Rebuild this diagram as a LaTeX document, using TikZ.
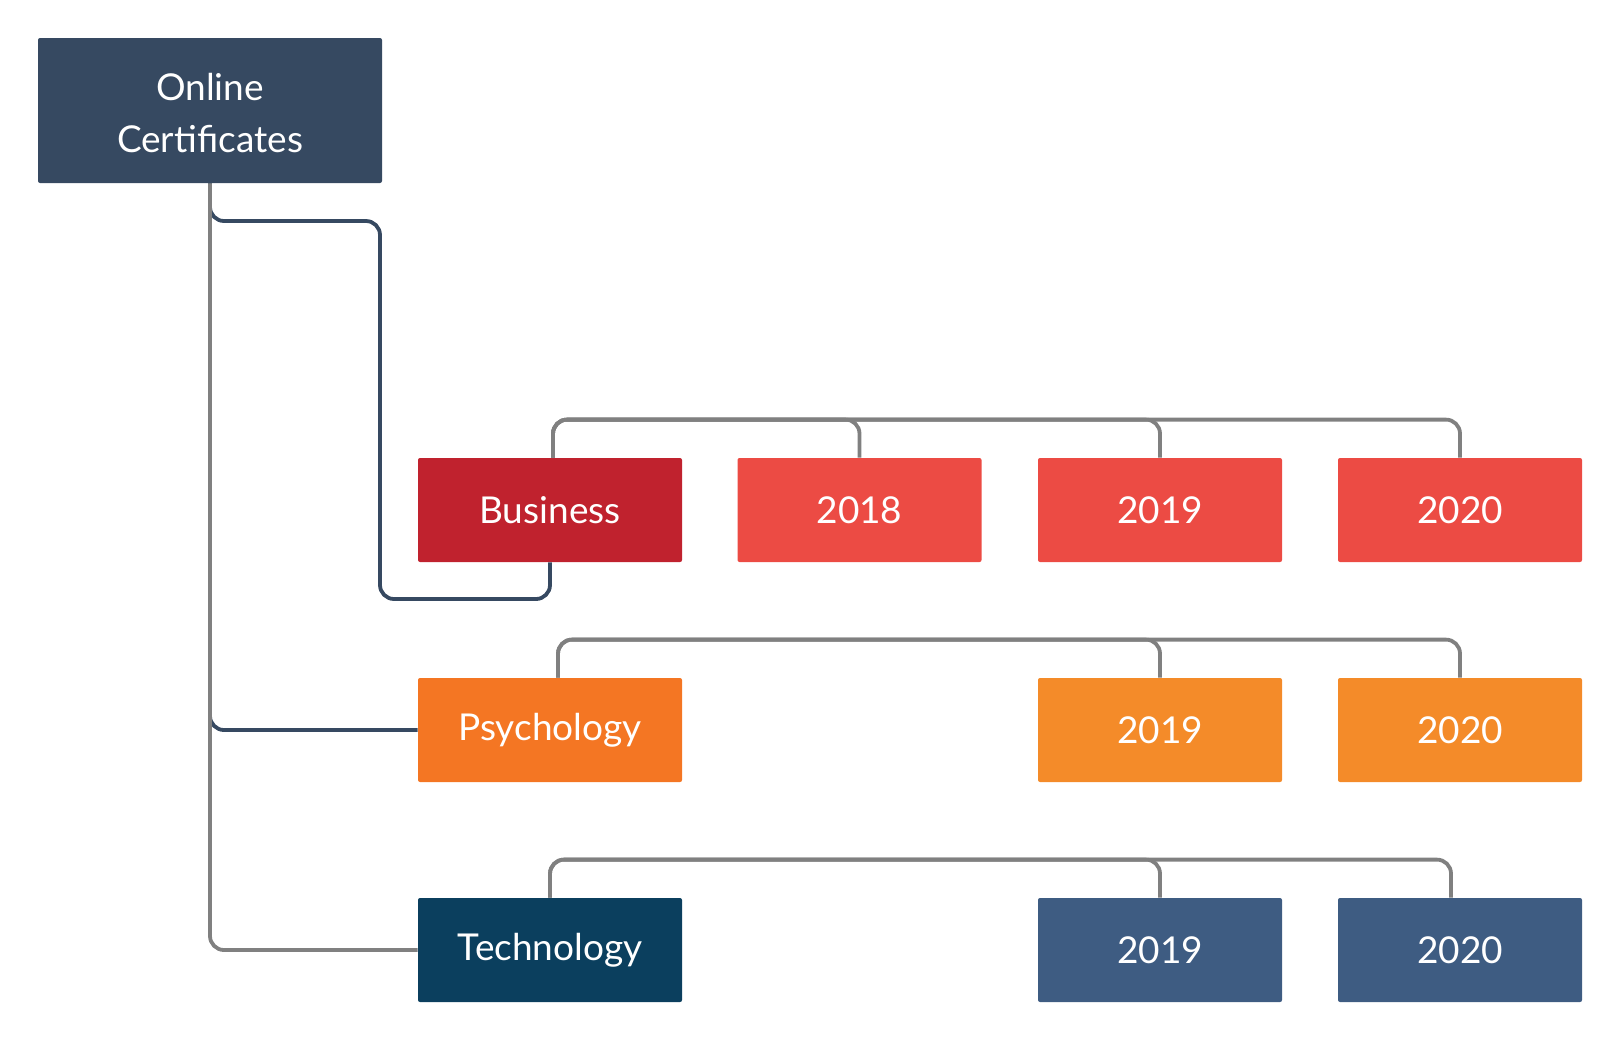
\documentclass[tikz,border=0pt]{standalone}
\usepackage{fontspec}
\setmainfont{Lato}
\usetikzlibrary{positioning, calc}
\definecolor{rootblue}{RGB}{54,73,97}
\definecolor{busred}{RGB}{192,34,46}
\definecolor{busyear}{RGB}{236,75,68}
\definecolor{psyorange}{RGB}{244,118,35}
\definecolor{psyyear}{RGB}{244,139,41}
\definecolor{techblue}{RGB}{11,63,94}
\definecolor{techyear}{RGB}{62,92,130}
\definecolor{linegray}{RGB}{128,128,128}
\tikzset{
	cellbox/.style={rectangle, rounded corners=1pt, text=white, inner sep=0pt, font=\fontsize{18.5}{25}\selectfont},
	rootbox/.style={cellbox, fill=rootblue, minimum width=172pt, minimum height=72.5pt},
	roottext/.style={text=white, inner sep=0pt, align=center, yshift=-1.4pt, font=\fontsize{18.5}{26}\selectfont},
	catbox/.style={cellbox, minimum width=132pt, minimum height=52pt},
	yearbox/.style={cellbox, minimum width=122pt, minimum height=52pt},
	grayline/.style={draw=linegray, line width=1.9pt, rounded corners=7pt},
	navyline/.style={draw=rootblue, line width=1.9pt, rounded corners=7pt}
}

\begin{document}
\begin{tikzpicture}[x=0.5pt, y=-0.5pt]
	\useasboundingbox (0,0) rectangle (1620,1040);
	\node[rootbox, label={[roottext]center:Online\\Certificates}] (root) at (210,110.5) {};
	% Business row
	\node[catbox, fill=busred] (bus) at (550,510) {Business};
	\node[yearbox, fill=busyear] (bus18) at (859.5,510) {2018};
	\node[yearbox, fill=busyear] (bus19) at (1160,510) {2019};
	\node[yearbox, fill=busyear] (bus20) at (1460,510) {2020};
	% Psychology row
	\node[catbox, fill=psyorange] (psy) at (550,730) {Psychology};
	\node[yearbox, fill=psyyear] (psy19) at (1160,730) {2019};
	\node[yearbox, fill=psyyear] (psy20) at (1460,730) {2020};
	% Technology row
	\node[catbox, fill=techblue] (tech) at (550,950) {Technology};
	\node[yearbox, fill=techyear] (tech19) at (1160,950) {2019};
	\node[yearbox, fill=techyear] (tech20) at (1460,950) {2020};

	\draw[navyline] (root.south) |- (380,221) -- (380,599) -| (bus.south);
	\draw[navyline] (root.south) |- (psy.west);
	\draw[grayline] (root.south) |- (tech.west);	% trunk

	\foreach \n in {bus18, bus19, bus20}
		\draw[grayline] ([xshift=1.5pt]bus.north) -- ++(0,-38) -| (\n.north);
	\foreach \n in {psy19, psy20}
		\draw[grayline] ([xshift=4pt]psy.north) -- ++(0,-38) -| (\n.north);
	\draw[grayline] (tech.north) -- ++(0,-38) -| (tech19.north);
	\draw[grayline] (tech.north) -- ++(0,-38) -| ([xshift=-4.5pt]tech20.north);
\end{tikzpicture}
\end{document}
